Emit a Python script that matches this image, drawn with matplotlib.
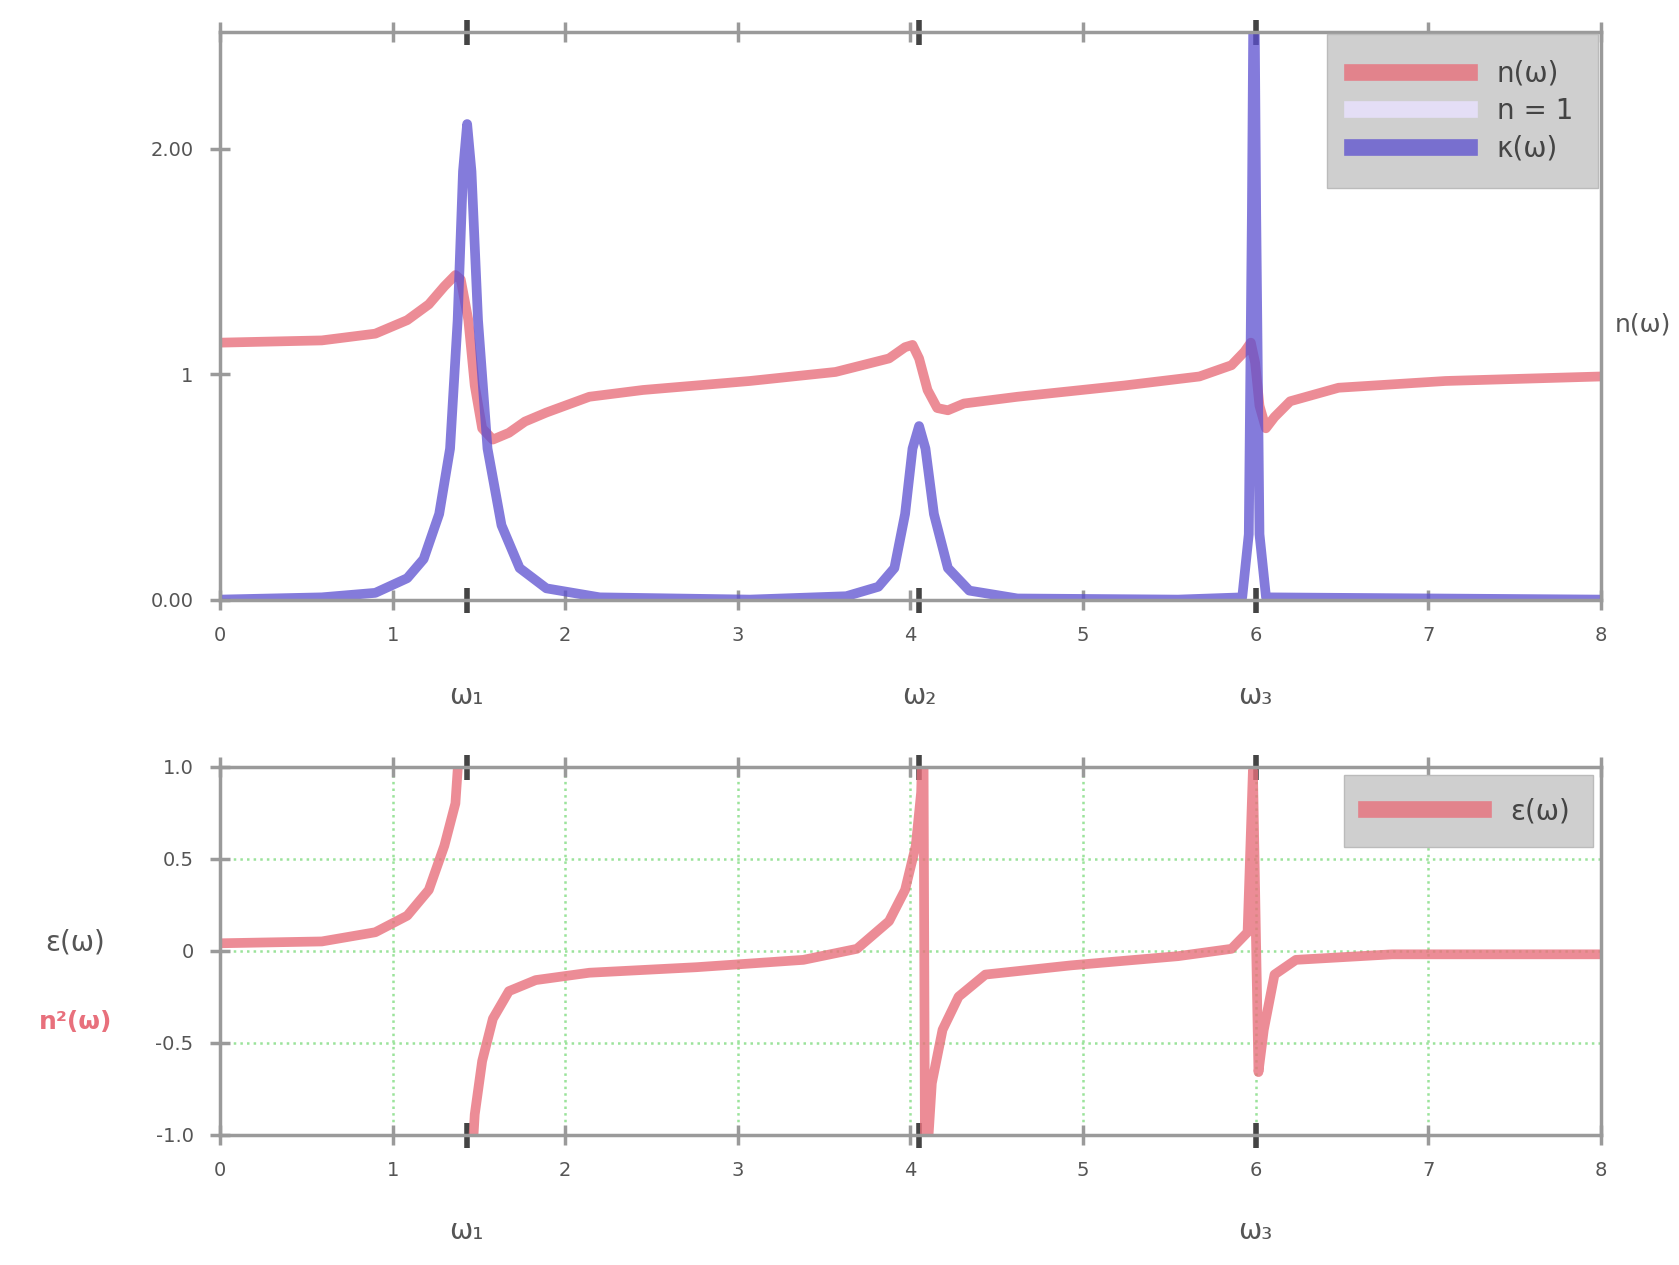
import numpy as np
import matplotlib
matplotlib.use("Agg")
import matplotlib.pyplot as plt

# resonance frequencies
w_res = [1.43, 4.05, 6.0]
w_names = ["ω₁", "ω₂", "ω₃"]

# top panel: refractive index (red) and absorption (blue)
n_x = [0, 0.59, 0.90, 1.085, 1.21, 1.30, 1.364, 1.395, 1.439, 1.476, 1.519, 1.581,
       1.674, 1.767, 1.891, 2.14, 2.45, 3.07, 3.566, 3.876, 3.969, 4.012, 4.05, 4.099,
       4.155, 4.217, 4.31, 4.62, 5.24, 5.674, 5.86, 5.935, 5.972, 5.997, 6.022, 6.059,
       6.109, 6.2, 6.48, 7.1, 8.0]
n_y = [1.14, 1.15, 1.18, 1.24, 1.31, 1.39, 1.44, 1.42, 1.24, 0.95, 0.76, 0.71,
       0.74, 0.79, 0.83, 0.90, 0.93, 0.97, 1.01, 1.07, 1.12, 1.13, 1.07, 0.93,
       0.85, 0.84, 0.87, 0.90, 0.95, 0.99, 1.04, 1.10, 1.14, 1.05, 0.86, 0.76,
       0.81, 0.88, 0.94, 0.97, 0.99]

k_x = [0, 0.59, 0.90, 1.085, 1.18, 1.27, 1.333, 1.377, 1.408, 1.432, 1.457, 1.495,
       1.55, 1.631, 1.736, 1.891, 2.20, 3.07, 3.628, 3.814, 3.907, 3.969, 4.012, 4.05,
       4.087, 4.136, 4.217, 4.341, 4.62, 5.55, 5.922, 5.96, 5.978, 5.99, 6.003, 6.022,
       6.06, 8.0]
k_y = [0, 0.01, 0.03, 0.095, 0.18, 0.38, 0.67, 1.24, 1.90, 2.11, 1.90, 1.24,
       0.67, 0.33, 0.14, 0.05, 0.01, 0, 0.015, 0.057, 0.14, 0.38, 0.67, 0.77,
       0.67, 0.38, 0.14, 0.04, 0.005, 0, 0.01, 0.29, 1.71, 3.0, 1.71, 0.29,
       0.01, 0]

# bottom panel: real part (red), NaN breaks the curve at w1
e_x = [0, 0.59, 0.90, 1.085, 1.21, 1.30, 1.364, 1.40, 1.42, 1.45, 1.476, 1.519,
       1.581, 1.674, 1.829, 2.14, 2.76, 3.38, 3.69, 3.876, 3.969, 4.031, 4.062, 4.075,
       4.085, 4.124, 4.186, 4.279, 4.434, 4.93, 5.55, 5.86, 5.953, 5.984, 6.016, 6.047,
       6.109, 6.233, 6.79, 8.0]
e_y = [0.04, 0.05, 0.10, 0.19, 0.33, 0.57, 0.80, 1.3, np.nan, -1.3, -0.89, -0.60,
       -0.37, -0.22, -0.16, -0.12, -0.09, -0.05, 0.01, 0.16, 0.33, 0.57, 0.86, 1.3,
       -1.3, -0.72, -0.43, -0.25, -0.13, -0.08, -0.03, 0.01, 0.10, 0.98, -0.66, -0.43,
       -0.13, -0.05, -0.02, -0.02]

x_ticks = [0, 1, 2, 3, 4, 5, 6, 7, 8]

red = "#e8707c"
blue = "#5b4fd0"
gray = "#9a9a9a"
txt = "#555555"


def style(ax):
    ax.xaxis.remove_overlapping_locs = False
    for s in ax.spines.values():
        s.set_color(gray)
        s.set_linewidth(2.5)
    ax.tick_params(which="both", direction="inout", colors=gray, labelcolor=txt,
                   top=True, right=False, labelsize=14, width=2.5)
    ax.tick_params(which="major", length=14, pad=12)
    ax.set_xlim(0, 8)
    ax.set_xticks(x_ticks)
    ax.set_xticks(w_res, minor=True)


fig = plt.figure(figsize=(16.79, 12.65), dpi=100)

# ---- top panel
ax1 = fig.add_axes([0.131, 0.526, 0.8225, 0.449])
ax1.plot(n_x, n_y, color=red, lw=7, alpha=0.8, label="n(ω)", solid_joinstyle="round")
ax1.plot([], [], color="#e4def6", lw=9, label="n = 1")
ax1.plot(k_x, k_y, color=blue, lw=7, alpha=0.75, label="κ(ω)", solid_joinstyle="round")
style(ax1)
ax1.set_ylim(0, 2.52)
ax1.set_yticks([0, 1, 2])
ax1.set_yticklabels(["0.00", "1", "2.00"])
ax1.set_xticklabels([str(t) for t in x_ticks])
ax1.set_xticklabels(w_names, minor=True, fontsize=20)
ax1.tick_params(which="minor", length=18, width=4, color="#444444", pad=50)
ax1.text(1.01, 1.22, "n(ω)", transform=ax1.get_yaxis_transform(), color=txt,
         fontsize=18, va="center")
leg1 = ax1.legend(loc="upper right", fontsize=20, facecolor="#cfcfcf", edgecolor="#bbbbbb",
                  framealpha=1, handlelength=4.2, borderaxespad=0.1, borderpad=0.9,
                  labelspacing=0.35, handletextpad=1.0, fancybox=False)
for t in leg1.get_texts():
    t.set_color("#444444")
for h in leg1.get_lines():
    h.set_linewidth(12)

# ---- bottom panel
ax2 = fig.add_axes([0.131, 0.103, 0.8225, 0.291])
ax2.grid(True, color="#9be39b", linestyle=":", lw=1.8)
ax2.plot(e_x, e_y, color=red, lw=7, alpha=0.8, label="ε(ω)", solid_joinstyle="round")
style(ax2)
ax2.set_ylim(-1, 1)
ax2.set_yticks([-1, -0.5, 0, 0.5, 1])
ax2.set_yticklabels(["-1.0", "-0.5", "0", "0.5", "1.0"])
ax2.set_xticklabels([str(t) for t in x_ticks])
ax2.set_xticklabels([w_names[0], "", w_names[2]], minor=True, fontsize=20)
ax2.tick_params(which="minor", length=18, width=4, color="#444444", pad=50)
fig.text(0.045, 0.255, "ε(ω)", color=txt, fontsize=20, ha="center", va="center")
fig.text(0.045, 0.192, "n²(ω)", color=red, fontsize=18, ha="center", va="center",
         fontweight="bold")
leg2 = ax2.legend(loc="upper right", fontsize=20, facecolor="#cfcfcf", edgecolor="#bbbbbb",
                  framealpha=1, handlelength=4.2, borderaxespad=0.3, borderpad=0.8,
                  handletextpad=1.0, fancybox=False)
for t in leg2.get_texts():
    t.set_color("#444444")
for h in leg2.get_lines():
    h.set_linewidth(12)

plt.savefig("out.png")
